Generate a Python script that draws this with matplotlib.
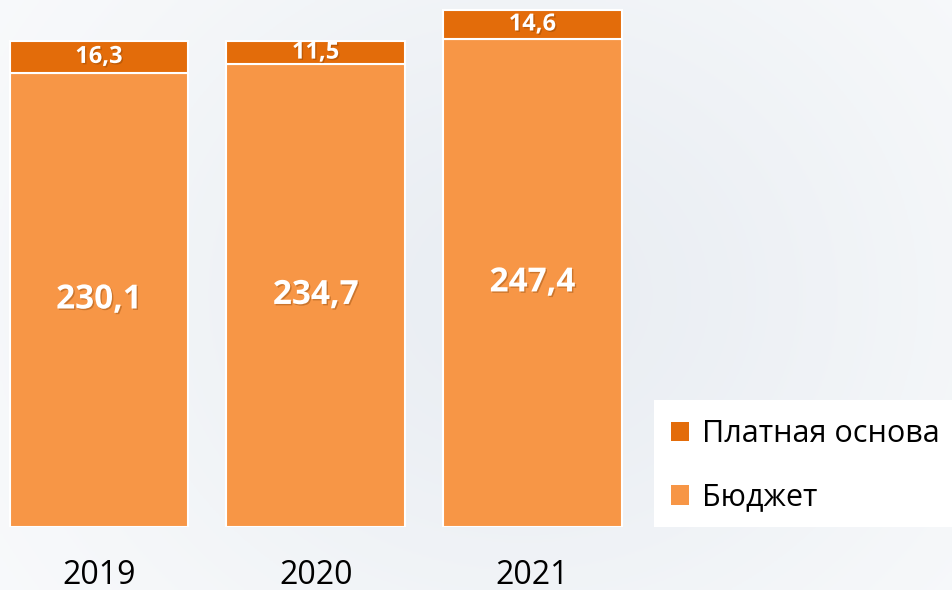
import numpy as np
import matplotlib.pyplot as plt
from matplotlib.patches import Rectangle, Patch
import matplotlib.patheffects as pe

years = ['2019', '2020', '2021']
budget = [230.1, 234.7, 247.4]
paid = [16.3, 11.5, 14.6]
budget_labels = ['230,1', '234,7', '247,4']
paid_labels = ['16,3', '11,5', '14,6']

c_paid = '#E36C0A'
c_budget = '#F79646'

plt.rcParams['font.family'] = ['Open Sans', 'DejaVu Sans']

W, H = 952, 590
fig = plt.figure(figsize=(W / 100, H / 100), dpi=100)

# background gradient
bg = fig.add_axes([0, 0, 1, 1], zorder=-10)
yy, xx = np.mgrid[0:1:200j, 0:1:300j]
d = np.exp(-((xx - 0.55) ** 2 / 0.25 + (yy - 0.5) ** 2 / 0.5))
top = np.array([251, 252, 253]) / 255
mid = np.array([234, 238, 243]) / 255
img = top[None, None, :] * (1 - d[..., None]) + mid[None, None, :] * d[..., None]
bg.imshow(img, aspect='auto', extent=[0, 1, 0, 1])
bg.axis('off')

# main axes: value 0 sits at y=527 px
ax = fig.add_axes([0, (H - 527) / H, 640 / W, 527 / H])
ax.patch.set_alpha(0)
x = np.arange(len(years))
w = 0.825
ax.bar(x, budget, w, color=c_budget, edgecolor='white', linewidth=1.5)
ax.bar(x, paid, w, bottom=budget, color=c_paid, edgecolor='white', linewidth=1.5)
ax.set_xlim(-0.457, 2.496)
ax.set_ylim(0, 527 / 1.973)
ax.axis('off')

shadow = [pe.withSimplePatchShadow(offset=(1, -1), shadow_rgbFace='#7a3a00', alpha=0.35)]
for i in range(len(years)):
    ax.text(x[i], budget[i] / 2, budget_labels[i], ha='center', va='center',
            color='white', fontsize=24, fontweight='bold', path_effects=shadow)
    ax.text(x[i], budget[i] + paid[i] / 2, paid_labels[i], ha='center', va='center',
            color='white', fontsize=17, fontweight='bold', path_effects=shadow)
    ax.text(x[i], -48 / 1.973, years[i], ha='center', va='center',
            color='black', fontsize=23)

# legend box
fig.patches.append(Rectangle((654 / W, (H - 527) / H), (W - 654) / W, 127 / H,
                             transform=fig.transFigure, facecolor='white',
                             edgecolor='none', zorder=1))
handles = [Patch(facecolor=c_paid), Patch(facecolor=c_budget)]
fig.legend(handles, ['Платная основа', 'Бюджет'], loc='upper left',
           bbox_to_anchor=(671 / W, 1 - 419 / H), frameon=False,
           fontsize=22, handlelength=0.6, handleheight=0.6, handletextpad=0.4,
           labelspacing=1.1, borderpad=0, borderaxespad=0)

fig.savefig('out.png', dpi=100)
